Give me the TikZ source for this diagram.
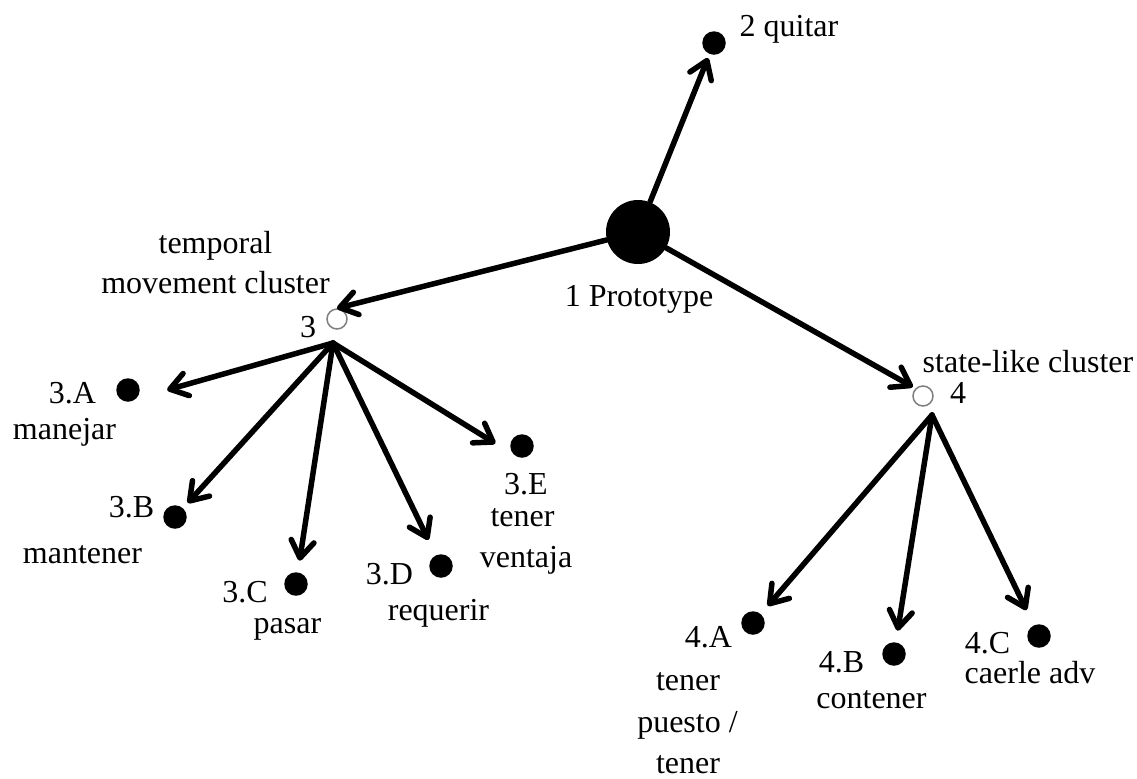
\documentclass[tikz,border=0pt]{standalone}
\usepackage{fontspec}
\setmainfont{Liberation Serif}
\usetikzlibrary{arrows.meta}
\begin{document}
\begin{tikzpicture}[x=0.5pt,y=-0.5pt,
  every node/.style={inner sep=0pt},
  txt/.style={anchor=base, font=\fontsize{16}{19}\selectfont},
  proto/.style={circle, fill=black, minimum size=32pt},
  leaf/.style={circle, fill=black, minimum size=11.75pt},
  hub/.style={circle, draw=gray, fill=white, line width=0.75pt, minimum size=10pt},
  link/.style={line width=2.75pt, line cap=round,
    -{Straight Barb[length=8.5pt,width=11.5pt,round]}},
]
\useasboundingbox (0,0) rectangle (1137,778);

% prototype and its direct extensions
\node[proto] (P) at (638,232) {};
\node[leaf]  (q) at (714,43) {};
\node[hub]   (h3) at (337,319) {};
\node[hub]   (h4) at (923,396) {};
\coordinate (f3) at (333,343);
\coordinate (f4) at (932,415);

% temporal movement cluster members
\node[leaf] (n3a) at (128,390) {};
\node[leaf] (n3b) at (175,517) {};
\node[leaf] (n3c) at (296,584) {};
\node[leaf] (n3d) at (441,566) {};
\node[leaf] (n3e) at (522,446) {};

% state-like cluster members
\node[leaf] (n4a) at (753,623) {};
\node[leaf] (n4b) at (894,654) {};
\node[leaf] (n4c) at (1039,636) {};

% connectors
\draw[link, shorten >=2pt] (P) -- (q);
\draw[link] (P) -- (h3.north);
\draw[link, shorten >=1.5pt] (P) -- (h4.north west);

\draw[link, shorten >=15.9pt] (f3) -- (n3a.south east);
\draw[link, shorten >=3.4pt]  (f3) -- (n3b);
\draw[link, shorten >=5.7pt]  (f3) -- (n3c);
\draw[link, shorten >=8.4pt]  (f3) -- (n3d);
\draw[link, shorten >=10.6pt] (f3) -- (n3e.south west);

\draw[link, shorten >=5.25pt] (f4) -- (n4a);
\draw[link, shorten >=5.7pt]  (f4) -- (n4b);
\draw[link, shorten >=8.3pt]  (f4) -- (n4c);

% labels
\node[txt] (t2)  at (789,36)  {2 quitar};
\node[txt] (t1)  at (639,306) {1 Prototype};
\node[txt] (t3h1) at (215.5,253) {temporal};
\node[txt] (t3h2) at (215.5,293) {movement cluster};
\node[txt] (t3)  at (308,337) {3};
\node[txt] (t4h) at (1028,372) {state-like cluster};
\node[txt] (t4)  at (958,403) {4};

\node[txt] (t3a1) at (72.5,403)  {3.A};
\node[txt] (t3a2) at (64.5,439)  {manejar};
\node[txt] (t3b1) at (131.5,517) {3.B};
\node[txt] (t3b2) at (82.5,563)  {mantener};
\node[txt] (t3c1) at (245,602)   {3.C};
\node[txt] (t3c2) at (287.5,633) {pasar};
\node[txt] (t3d1) at (389.5,584) {3.D};
\node[txt] (t3d2) at (438.5,620) {requerir};
\node[txt] (t3e1) at (526,494)   {3.E};
\node[txt] (t3e2) at (522.5,526) {tener};
\node[txt] (t3e3) at (526,567)   {ventaja};

\node[txt] (t4a1) at (708.5,647) {4.A};
\node[txt] (t4a2) at (688,690)   {tener};
\node[txt] (t4a3) at (687.5,732) {puesto /};
\node[txt] (t4a4) at (688,773)   {tener};
\node[txt] (t4b1) at (841.5,672) {4.B};
\node[txt] (t4b2) at (871.5,708) {contener};
\node[txt] (t4c1) at (987.5,653) {4.C};
\node[txt] (t4c2) at (1030,683)  {caerle adv};
\end{tikzpicture}
\end{document}
